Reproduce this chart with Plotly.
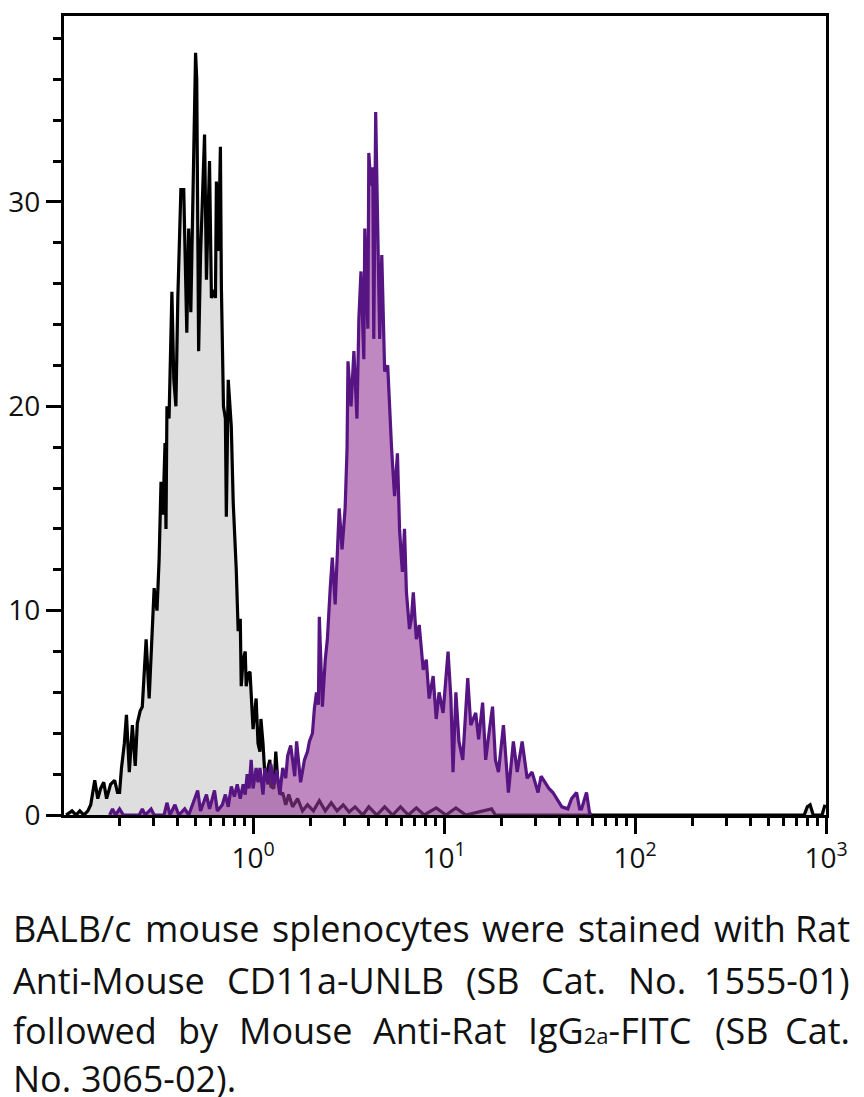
import plotly.graph_objects as go

# ---------------- data ----------------
# log10 fluorescence intensity of each histogram point, and its count
black_log10 = [
    -0.979, -0.948, -0.927, -0.907, -0.886, -0.865, -0.850, -0.829, -0.813, -0.798,
    -0.782, -0.767, -0.746, -0.725, -0.710, -0.699, -0.689, -0.674, -0.663, -0.648,
    -0.632, -0.617, -0.606, -0.591, -0.580, -0.570, -0.560, -0.544, -0.528, -0.518,
    -0.503, -0.492, -0.482, -0.472, -0.461, -0.456, -0.451, -0.440, -0.425, -0.415,
    -0.404, -0.394, -0.378, -0.363, -0.347, -0.337, -0.326, -0.311, -0.301, -0.295,
    -0.285, -0.275, -0.264, -0.254, -0.244, -0.228, -0.218, -0.207, -0.197, -0.192,
    -0.181, -0.171, -0.166, -0.155, -0.145, -0.140, -0.130, -0.119, -0.114, -0.104,
    -0.088, -0.078, -0.067, -0.062, -0.052, -0.041, -0.036, -0.026, -0.016, 0.000,
    0.016, 0.026, 0.036, 0.041, 0.052, 0.062, 0.078, 0.088, 0.093, 0.109,
    0.119, 0.130, 0.145, 0.155, 0.171, 0.187, 0.207, 0.233, 0.259, 0.285,
    0.316, 0.347, 0.378, 0.409, 0.440, 0.472, 0.503, 0.534, 0.575, 0.606,
    0.648, 0.689, 0.731, 0.772, 0.813, 0.855, 0.896, 0.959, 1.010, 1.062,
    1.114, 1.249, 1.269, 2.886, 2.902, 2.917, 2.933, 2.979, 2.995,
]
black_counts = [
    0, 0.2, 0, 0.2, 0, 0.2, 0.5, 1.7, 0.8, 1.3,
    1.6, 0.8, 1.5, 1.7, 1.1, 1.1, 2.3, 3.5, 4.9, 2.1,
    4.4, 2.4, 4.5, 5.1, 5.3, 6.7, 8.6, 5.7, 8.6, 11.1,
    10, 12.5, 16.3, 14.7, 18.2, 14, 20, 19.4, 25.6, 21.3,
    20, 25.3, 30.6, 30.6, 23.6, 28.7, 24.6, 33.7, 37.3, 36,
    22.7, 27.4, 30.2, 33.3, 26.2, 32, 25.3, 25.7, 25.3, 31,
    27.6, 32.7, 25.9, 20, 19.4, 14.6, 21.3, 19.4, 19, 15.3,
    12, 9, 9.6, 6.3, 7.6, 8, 6.3, 6.9, 7, 4.2,
    5.7, 3.5, 3.1, 4.7, 3.5, 1.9, 2.3, 2.7, 1.4, 1.3,
    3.1, 1.6, 1.0, 1.1, 0.5, 1.0, 0.4, 0.8, 0.2, 0.5,
    0.2, 0.7, 0.2, 0.6, 0.2, 0.5, 0.15, 0.4, 0, 0.4,
    0, 0.4, 0, 0.4, 0, 0.35, 0, 0.35, 0, 0.35,
    0, 0.3, 0, 0, 0.4, 0.5, 0, 0, 0.5,
]

purple_log10 = [
    -0.751, -0.736, -0.720, -0.699, -0.679, -0.596, -0.580, -0.565, -0.534, -0.518,
    -0.466, -0.451, -0.435, -0.409, -0.389, -0.358, -0.337, -0.306, -0.290, -0.275,
    -0.244, -0.228, -0.202, -0.187, -0.161, -0.145, -0.130, -0.114, -0.098, -0.083,
    -0.067, -0.052, -0.041, -0.031, -0.021, -0.010, 0.000, 0.016, 0.026, 0.036,
    0.052, 0.062, 0.078, 0.093, 0.109, 0.124, 0.140, 0.155, 0.171, 0.181,
    0.197, 0.218, 0.228, 0.249, 0.269, 0.285, 0.295, 0.311, 0.321, 0.332,
    0.342, 0.347, 0.363, 0.378, 0.389, 0.404, 0.415, 0.430, 0.440, 0.451,
    0.466, 0.482, 0.492, 0.497, 0.513, 0.528, 0.544, 0.554, 0.565, 0.580,
    0.585, 0.601, 0.606, 0.617, 0.627, 0.632, 0.642, 0.658, 0.663, 0.674,
    0.689, 0.705, 0.715, 0.725, 0.736, 0.741, 0.756, 0.767, 0.777, 0.782,
    0.793, 0.803, 0.819, 0.829, 0.839, 0.855, 0.870, 0.891, 0.907, 0.922,
    0.943, 0.959, 0.974, 0.995, 1.021, 1.036, 1.047, 1.062, 1.078, 1.098,
    1.124, 1.140, 1.166, 1.181, 1.202, 1.218, 1.238, 1.254, 1.269, 1.285,
    1.311, 1.337, 1.363, 1.383, 1.409, 1.435, 1.461, 1.492, 1.508, 1.528,
    1.549, 1.570, 1.591, 1.617, 1.648, 1.668, 1.694, 1.710, 1.720, 1.746,
    1.762, 1.772,
]
purple_counts = [
    0, 0.3, 0, 0.3, 0, 0, 0.3, 0, 0.3, 0,
    0, 0.6, 0, 0.5, 0, 0.3, 0, 0.8, 1.2, 0.2,
    1.0, 0.3, 1.2, 0.2, 0.5, 1.0, 0.4, 1.4, 0.9, 1.5,
    0.8, 1.5, 1.0, 2.0, 1.3, 2.7, 1.3, 2.3, 1.6, 2.3,
    1.0, 2.3, 1.5, 2.5, 1.5, 2.2, 1.0, 2.3, 1.8, 2.9,
    3.4, 1.9, 3.6, 1.6, 2.7, 3.1, 3.6, 4.0, 5.2, 6.0,
    5.4, 9.7, 5.3, 7.6, 8.6, 11.1, 12.6, 10.3, 12.5, 15,
    13, 15, 17.9, 22.2, 20, 22.7, 19.4, 24.3, 26.6, 22.3,
    28.7, 23.8, 32.4, 30.8, 31.7, 23.3, 34.4, 25.9, 23.3, 27.4,
    21.7, 22, 19.6, 18, 16.3, 15.6, 17.7, 14, 12.5, 11.9,
    14, 10.9, 9.1, 9.6, 10.9, 8.6, 9.3, 7.1, 7.6, 5.7,
    6.8, 4.7, 6, 5, 8, 5.7, 2.1, 6, 3.6, 2.7,
    6.7, 4.4, 5, 3.7, 5.5, 2.7, 4.2, 5.3, 2.7, 2.1,
    4.4, 1.1, 3.6, 2.1, 3.6, 1.8, 2.1, 1.1, 1.9, 1.6,
    1.3, 1.1, 0.8, 0.4, 0.3, 0.8, 1.1, 0.3, 0.3, 1.1,
    0.1, 0,
]

x_tick_vals = [1, 10, 100, 1000]
x_tick_text = ["10<sup>0</sup>", "10<sup>1</sup>", "10<sup>2</sup>", "10<sup>3</sup>"]
x_minor_vals = [m * d for d in (0.1, 1, 10, 100) for m in range(2, 10)]
y_tick_vals = [0, 10, 20, 30]

# caption words per line ("|...|" marks the small subscript part); last line not justified
caption_lines = [
    ["BALB/c", "mouse", "splenocytes", "were", "stained", "with", "Rat"],
    ["Anti-Mouse", "CD11a-UNLB", "(SB", "Cat.", "No.", "1555-01)"],
    ["followed", "by", "Mouse", "Anti-Rat", "IgG|2a|-FITC", "(SB", "Cat."],
    ["No.", "3065-02)."],
]
caption_justified = [True, True, True, False]

# ---------------- layout helpers ----------------
FONT = "Open Sans"
CAP_SIZE = 36
SUB_SIZE = 22
TICK_SIZE = 28
# the page has an 8px body margin around the figure
OFF = 8
W, H = 864 - 2 * OFF, 1097
L, R, T = 56, 30, 8
PLOT_BOTTOM = 807                        # figure px
B = H - PLOT_BOTTOM
PW, PH = W - L - R, H - T - B
TEXT_LEFT, TEXT_RIGHT = 11, 852          # page px
LINE_Y = [928, 980, 1030, 1078]          # page px (text middle)

# approximate Open Sans advance widths (em)
ADV = {" ": .260, "a": .556, "b": .613, "c": .476, "d": .613, "e": .561, "f": .339,
       "g": .548, "h": .614, "i": .253, "l": .253, "m": .930, "n": .614, "o": .604,
       "p": .613, "r": .408, "s": .477, "t": .353, "u": .614, "w": .788, "y": .501,
       "A": .633, "B": .648, "C": .631, "D": .729, "F": .535, "G": .728, "I": .308,
       "L": .535, "M": .903, "N": .760, "R": .639, "S": .549, "T": .556, "U": .722,
       "/": .367, "(": .296, ")": .296, "-": .322, ".": .266}


def word_width(w):
    parts = w.split("|")
    total = 0.0
    for i, p in enumerate(parts):
        size = SUB_SIZE if i == 1 else CAP_SIZE
        total += sum(ADV.get(ch, .572) for ch in p) * size
    return total


def word_markup(w):
    parts = w.split("|")
    if len(parts) == 3:
        return parts[0] + "<span style='font-size:%dpx'>%s</span>" % (SUB_SIZE, parts[1]) + parts[2]
    return w


fig = go.Figure()
fig.add_trace(go.Scatter(
    x=[10 ** v for v in black_log10], y=black_counts, mode="lines",
    line=dict(color="#000000", width=3.2), fill="tozeroy", fillcolor="#DEDEDE",
    hoverinfo="skip", showlegend=False))
fig.add_trace(go.Scatter(
    x=[10 ** v for v in purple_log10], y=purple_counts, mode="lines",
    line=dict(color="#561582", width=3.2), fill="tozeroy",
    fillcolor="rgba(148,57,150,0.6)", hoverinfo="skip", showlegend=False))

annotations = []
for words, just, py in zip(caption_lines, caption_justified, LINE_Y):
    widths = [word_width(w) for w in words]
    if just and len(words) > 1:
        gap = (TEXT_RIGHT - TEXT_LEFT - sum(widths)) / (len(words) - 1)
    else:
        gap = ADV[" "] * CAP_SIZE
    x = TEXT_LEFT
    for i, (w, wd) in enumerate(zip(words, widths)):
        last = just and i == len(words) - 1
        xpage = TEXT_RIGHT if last else x
        annotations.append(dict(
            text=word_markup(w),
            x=(xpage - OFF - L) / PW, y=(PLOT_BOTTOM - (py - OFF)) / PH,
            xref="paper", yref="paper",
            xanchor="right" if last else "left", yanchor="middle", showarrow=False,
            font=dict(family=FONT, size=CAP_SIZE, color="#111111")))
        x += wd + gap

fig.update_layout(
    width=W, height=H, margin=dict(l=L, r=R, t=T, b=B, pad=0, autoexpand=False),
    paper_bgcolor="white", plot_bgcolor="white",
    font=dict(family=FONT, color="#111111"),
    annotations=annotations,
    xaxis=dict(
        type="log", range=[-0.990, 3.0], showgrid=False, zeroline=False,
        automargin=False,
        showline=True, linecolor="#000000", linewidth=3, mirror=True,
        ticks="outside", ticklen=16, tickwidth=3, tickcolor="#000000",
        tickmode="array", tickvals=x_tick_vals, ticktext=x_tick_text,
        tickfont=dict(family=FONT, size=TICK_SIZE, color="#111111"),
        minor=dict(tickmode="array", tickvals=x_minor_vals, ticks="outside",
                   ticklen=8, tickwidth=3, tickcolor="#000000", showgrid=False),
    ),
    yaxis=dict(
        range=[0, 39.1], showgrid=False, zeroline=False,
        automargin=False,
        showline=True, linecolor="#000000", linewidth=3, mirror=True,
        ticks="outside", ticklen=15, tickwidth=3, tickcolor="#000000",
        tickmode="array", tickvals=y_tick_vals,
        tickfont=dict(family=FONT, size=TICK_SIZE, color="#111111"),
        minor=dict(dtick=2, tick0=0, ticks="outside", ticklen=8, tickwidth=3,
                   tickcolor="#000000", showgrid=False),
    ),
)

fig.write_html("out.html")
